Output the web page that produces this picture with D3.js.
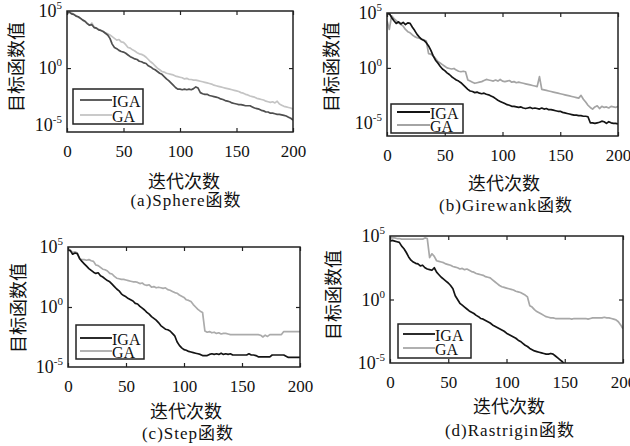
<!DOCTYPE html>
<html><head><meta charset="utf-8">
<script src="https://cdn.jsdelivr.net/npm/d3@7/dist/d3.min.js"></script>
<style>body{margin:0;background:#fff}svg{display:block}</style>
</head><body><svg id="chart" width="630" height="446"></svg>
<script>
// x categories (iteration numbers)
const iters = [0,2,4,6,8,10,12,14,16,18,20,22,24,26,28,30,32,34,36,38,40,42,44,46,48,50,52,54,56,58,60,62,64,66,68,70,72,74,76,78,80,82,84,86,88,90,92,94,96,98,100,102,104,106,108,110,112,114,116,118,120,122,124,126,128,130,132,134,136,138,140,142,144,146,148,150,152,154,156,158,160,162,164,166,168,170,172,174,176,178,180,182,184,186,188,190,192,194,196,198,200];
const xTicks = [0,50,100,150,200];
const yTickExps = [-5,0,5];
const seriesNames = ["IGA","GA"];
const captions = ["(a)Sphere函数","(b)Girewank函数","(c)Step函数","(d)Rastrigin函数"];
const xTitle = "迭代次数";
const yTitle = "目标函数值";

// series values: log10 of the objective value
const sphereIGA = [4.8,4.9,4.75,4.7,4.55,4.5,4.35,4.2,4.1,3.9,3.75,3.8,3.55,3.5,3.35,3.3,3.2,3.05,2.9,2.6,2.1,1.8,1.7,1.55,1.45,1.4,1.3,1.15,1.0,0.9,0.8,0.75,0.6,0.55,0.45,0.4,0.2,0.1,-0.05,-0.15,-0.3,-0.45,-0.55,-0.75,-0.95,-1.1,-1.3,-1.5,-1.7,-1.85,-1.85,-1.9,-1.85,-1.9,-1.85,-1.9,-1.8,-1.65,-1.75,-2.15,-2.25,-2.3,-2.3,-2.4,-2.45,-2.5,-2.55,-2.6,-2.7,-2.75,-2.85,-2.9,-2.95,-3.05,-3.1,-3.15,-3.2,-3.2,-3.25,-3.3,-3.3,-3.3,-3.4,-3.5,-3.55,-3.6,-3.7,-3.75,-3.85,-3.85,-3.95,-3.95,-4.0,-4.05,-4.05,-4.1,-4.15,-4.2,-4.3,-4.4,-4.55];
const sphereGA = [4.8,4.95,4.85,4.7,4.6,4.45,4.35,4.2,4.05,3.9,3.75,3.95,3.6,3.5,3.4,3.3,3.2,3.1,3.0,2.9,2.75,2.6,2.45,2.5,2.3,2.25,2.05,1.8,1.75,1.6,1.5,1.35,1.25,1.2,1.1,0.95,0.75,0.55,0.4,0.2,0.0,-0.15,-0.3,-0.35,-0.45,-0.5,-0.55,-0.6,-0.7,-0.75,-0.8,-0.85,-0.95,-0.9,-1.0,-1.0,-1.05,-1.05,-1.1,-1.15,-1.2,-1.25,-1.3,-1.35,-1.4,-1.5,-1.55,-1.6,-1.65,-1.7,-1.75,-1.8,-1.85,-1.9,-1.95,-2.0,-2.05,-2.15,-2.2,-2.3,-2.35,-2.45,-2.5,-2.55,-2.65,-2.7,-2.75,-2.8,-2.9,-2.95,-3.0,-2.95,-3.05,-2.9,-3.15,-3.25,-3.35,-3.4,-3.45,-3.5,-3.6];
const girewankIGA = [4.9,4.95,4.6,4.3,4.05,4.2,4.0,4.15,3.95,4.1,4.05,3.7,3.4,3.05,2.8,2.6,2.5,2.3,2.0,1.6,1.1,0.7,0.45,0.15,-0.1,-0.25,-0.45,-0.6,-0.8,-0.95,-1.1,-1.2,-1.35,-1.55,-1.75,-1.95,-2.1,-2.15,-2.25,-2.2,-2.3,-2.35,-2.3,-2.4,-2.45,-2.55,-2.65,-2.8,-2.95,-3.05,-3.15,-3.25,-3.35,-3.4,-3.5,-3.5,-3.55,-3.6,-3.55,-3.65,-3.7,-3.65,-3.6,-3.7,-3.65,-3.7,-3.75,-3.65,-3.75,-3.7,-3.8,-3.8,-3.85,-3.9,-3.95,-3.95,-4.05,-4.1,-4.15,-4.2,-4.25,-4.3,-4.3,-4.35,-4.35,-4.4,-4.4,-4.45,-5.0,-5.0,-5.05,-5.0,-4.95,-4.85,-4.9,-5.05,-4.9,-5.0,-5.05,-5.05,-5.1];
const girewankGA = [4.3,3.5,4.75,4.5,4.3,4.1,3.95,3.8,3.5,3.3,3.2,3.0,2.85,2.75,2.7,2.6,2.55,2.45,1.3,1.25,1.1,0.85,0.6,0.45,0.3,0.15,0.0,-0.05,-0.1,-0.05,-0.2,-0.3,-0.35,-0.3,-0.35,-1.1,-1.2,-1.3,-1.4,-1.35,-1.3,-1.25,-1.15,-1.05,-1.1,-1.15,-1.2,-1.1,-1.2,-1.05,-1.2,-1.25,-1.2,-1.15,-1.3,-1.25,-1.35,-1.3,-1.35,-1.4,-1.45,-1.5,-1.55,-1.6,-1.65,-1.7,-0.8,-1.95,-2.0,-2.05,-2.1,-2.15,-2.2,-2.25,-2.3,-2.35,-2.4,-2.45,-2.5,-2.55,-2.6,-2.65,-2.7,-2.75,-2.5,-2.85,-3.1,-3.4,-3.6,-3.75,-3.55,-3.45,-3.7,-3.5,-3.6,-3.55,-3.65,-3.5,-3.55,-3.6,-3.5];
const stepIGA = [4.75,4.7,4.4,4.5,4.45,4.05,3.8,3.6,3.4,3.2,3.05,2.9,2.8,2.85,2.6,2.5,2.35,2.2,2.1,1.9,1.7,1.5,1.35,1.1,0.95,0.85,0.7,0.6,0.5,0.3,0.25,0.05,-0.1,-0.25,-0.45,-0.6,-0.8,-0.95,-1.1,-1.3,-1.55,-1.7,-1.85,-1.9,-2.0,-2.2,-2.4,-2.9,-3.2,-3.4,-3.55,-3.6,-3.7,-3.75,-3.8,-3.85,-3.9,-3.95,-4.05,-4.05,-4.05,-3.95,-3.9,-3.95,-3.9,-3.95,-3.85,-3.95,-3.9,-3.95,-3.9,-4.0,-4.0,-4.0,-4.0,-4.0,-4.0,-4.0,-3.9,-4.0,-4.0,-4.05,-4.15,-4.15,-4.15,-4.15,-4.15,-4.15,-4.0,-4.0,-4.0,-4.0,-4.0,-4.0,-4.1,-4.2,-4.2,-4.2,-4.2,-4.2,-4.2];
const stepGA = [4.85,4.75,4.55,4.6,4.5,4.0,3.95,3.95,3.9,3.95,3.85,3.8,3.5,3.45,3.3,3.15,3.1,3.0,2.8,2.75,2.55,2.4,2.35,2.3,2.3,2.25,2.2,2.15,2.1,2.1,2.05,1.95,2.0,1.85,1.8,1.85,1.65,1.7,1.6,1.65,1.6,1.55,1.6,1.45,1.4,1.3,1.2,1.15,1.0,0.9,0.8,0.6,0.55,0.45,0.2,0.0,-0.2,-0.35,-0.45,-2.0,-2.1,-2.05,-2.15,-2.1,-2.2,-2.15,-2.25,-2.2,-2.2,-2.25,-2.3,-2.3,-2.3,-2.3,-2.3,-2.3,-2.3,-2.3,-2.3,-2.3,-2.3,-2.3,-2.3,-2.35,-2.5,-2.35,-2.45,-2.3,-2.3,-2.3,-2.3,-2.3,-2.3,-2.05,-2.05,-2.05,-2.05,-2.05,-2.05,-2.05,-2.05];
const rastriginIGA = [4.6,4.65,4.6,4.55,4.5,4.2,4.0,3.7,3.35,3.1,2.95,2.85,2.8,2.65,2.7,2.5,2.4,2.35,2.3,2.5,2.15,1.95,1.75,1.6,1.45,1.3,1.1,0.85,0.3,0.0,-0.3,-0.45,-0.6,-0.75,-0.9,-1.0,-1.1,-1.25,-1.35,-1.5,-1.55,-1.65,-1.75,-1.85,-2.0,-2.1,-2.2,-2.3,-2.4,-2.5,-2.65,-2.75,-2.85,-2.95,-3.05,-3.2,-3.3,-3.45,-3.6,-3.7,-3.85,-3.95,-4.05,-4.1,-4.15,-4.2,-4.25,-4.3,-4.3,-4.25,-4.3,-4.45,-4.6,-4.75,-4.9,-5.1,-5.3];
const rastriginGA = [4.85,4.85,4.85,4.8,4.8,4.75,4.75,4.75,4.75,4.75,4.75,4.75,4.75,4.75,4.75,4.85,4.8,3.3,3.6,3.4,3.05,3.0,2.95,2.9,2.8,2.75,2.7,2.6,2.55,2.5,2.4,2.45,2.35,2.4,2.3,2.2,2.15,2.05,2.0,1.95,1.9,1.8,1.75,1.7,1.55,1.4,1.25,1.1,1.0,0.95,0.9,0.85,0.8,0.75,0.65,0.6,0.55,0.45,0.35,0.2,-0.5,-0.6,-0.8,-0.95,-1.05,-1.15,-1.25,-1.35,-1.4,-1.45,-1.45,-1.5,-1.5,-1.5,-1.5,-1.5,-1.5,-1.5,-1.55,-1.5,-1.5,-1.5,-1.5,-1.5,-1.5,-1.55,-1.5,-1.45,-1.45,-1.45,-1.45,-1.45,-1.4,-1.45,-1.45,-1.5,-1.55,-1.6,-1.75,-2.0,-2.3];

// layout (pixels) and styles
const panels = [
  {box:[67,11,293,132], yMinExp:-5.6, data:[sphereIGA,sphereGA], colors:["#4f4f4f","#c4c4c4"],
   legend:{box:[73,89,143,124], ly:[100,115], lx:[80,112]}, yt:[15,67], xt:[184,180], cap:[186,200]},
  {box:[387,13,618,136], yMinExp:-6.2, data:[girewankIGA,girewankGA], colors:["#141414","#a4a4a4"],
   legend:{box:[391,104,463,133], ly:[112,125], lx:[397,430]}, yt:[330,67], xt:[504,182], cap:[506,205]},
  {box:[68,247,300,367], yMinExp:-5, data:[stepIGA,stepGA], colors:["#141414","#ababab"],
   legend:{box:[76,325,144,359], ly:[338,351], lx:[80,112]}, yt:[17,308], xt:[186,410], cap:[188,433]},
  {box:[390,236,623,363], yMinExp:-5, data:[rastriginIGA,rastriginGA], colors:["#141414","#a8a8a8"],
   legend:{box:[398,324,471,358], ly:[334,348], lx:[403,435]}, yt:[332,295], xt:[509,405], cap:[510,430]}
];
const serif = "'Liberation Serif','Times New Roman',serif";
const cjk = "'Noto Sans CJK SC','Noto Sans CJK JP',sans-serif";

const svg = d3.select("#chart");
svg.append("rect").attr("width",630).attr("height",446).attr("fill","#fff");

panels.forEach((p,pi)=>{
  const [x0,y0,x1,y1] = p.box;
  const x = d3.scaleLinear().domain([0,200]).range([x0,x1]);
  const y = d3.scaleLog().domain([Math.pow(10,p.yMinExp),1e5]).range([y1,y0]);
  const g = svg.append("g");
  const clipId = "clip"+pi;
  svg.append("clipPath").attr("id",clipId).append("rect")
    .attr("x",x0).attr("y",y0).attr("width",x1-x0).attr("height",y1-y0);

  // lines: GA first, IGA on top
  const line = d3.line().x((d,i)=>x(iters[i])).y(d=>y(Math.pow(10,d)));
  [1,0].forEach(si=>{
    g.append("path").datum(p.data[si]).attr("clip-path",`url(#${clipId})`)
      .attr("fill","none").attr("stroke",p.colors[si]).attr("stroke-width",1.7)
      .attr("stroke-linejoin","round").attr("d",line);
  });

  // x axes (bottom with labels, top mirror ticks)
  const xb = g.append("g").attr("transform",`translate(0,${y1})`)
    .call(d3.axisBottom(x).tickValues(xTicks).tickSize(-4).tickPadding(13).tickFormat(d3.format("d")));
  xb.select(".domain").remove();
  xb.selectAll("text").attr("font-family",serif).attr("font-size",17).attr("fill","#111");
  xb.selectAll("line").attr("stroke","#222").attr("stroke-width",1.2);
  const xtp = g.append("g").attr("transform",`translate(0,${y0})`)
    .call(d3.axisTop(x).tickValues(xTicks).tickSize(-4).tickFormat(""));
  xtp.select(".domain").remove();
  xtp.selectAll("line").attr("stroke","#222").attr("stroke-width",1.2);

  // y axis labels (left) and tick marks on both sides
  const yl = g.append("g").attr("transform",`translate(${x0},0)`)
    .call(d3.axisLeft(y).tickValues(yTickExps.map(e=>Math.pow(10,e))).tickSize(0).tickPadding(5).tickFormat(""));
  yl.select(".domain").remove();
  yl.selectAll("text").each(function(d){
    const t = d3.select(this).attr("font-family",serif).attr("fill","#111").attr("font-size",18);
    t.append("tspan").text("10");
    t.append("tspan").attr("font-size",11).attr("dy",-8).text(Math.round(Math.log10(d)));
  });
  [[d3.axisLeft, x0],[d3.axisRight, x1]].forEach(([ax,pos])=>{
    const a = g.append("g").attr("transform",`translate(${pos},0)`)
      .call(ax(y).tickValues([1]).tickSize(-4).tickFormat(""));
    a.select(".domain").remove();
    a.selectAll("line").attr("stroke","#222").attr("stroke-width",1.2);
  });

  // frame
  g.append("rect").attr("x",x0).attr("y",y0).attr("width",x1-x0).attr("height",y1-y0)
    .attr("fill","none").attr("stroke","#222").attr("stroke-width",1.5);

  // legend
  const L = p.legend;
  g.append("rect").attr("x",L.box[0]).attr("y",L.box[1]).attr("width",L.box[2]-L.box[0]).attr("height",L.box[3]-L.box[1])
    .attr("fill","#fff").attr("stroke","#222").attr("stroke-width",1.5);
  seriesNames.forEach((n,si)=>{
    g.append("line").attr("x1",L.lx[0]).attr("x2",L.lx[1]).attr("y1",L.ly[si]).attr("y2",L.ly[si])
      .attr("stroke",p.colors[si]).attr("stroke-width",1.8);
    g.append("text").attr("x",L.lx[1]).attr("y",L.ly[si]+1).attr("dominant-baseline","central")
      .attr("font-family",serif).attr("font-size",16).attr("fill","#111").text(n);
  });

  // titles
  g.append("text").attr("transform",`translate(${p.yt[0]},${p.yt[1]}) rotate(-90)`)
    .attr("text-anchor","middle").attr("dominant-baseline","central")
    .attr("font-family",cjk).attr("font-size",18).attr("fill","#111").text(yTitle);
  g.append("text").attr("x",p.xt[0]).attr("y",p.xt[1]).attr("text-anchor","middle").attr("dominant-baseline","central")
    .attr("font-family",cjk).attr("font-size",18).attr("fill","#111").text(xTitle);
  g.append("text").attr("x",p.cap[0]).attr("y",p.cap[1]).attr("text-anchor","middle").attr("dominant-baseline","central")
    .attr("font-family",serif+","+cjk).attr("font-size",17).attr("letter-spacing",1).attr("fill","#111").text(captions[pi]);
});
</script>
</body></html>
